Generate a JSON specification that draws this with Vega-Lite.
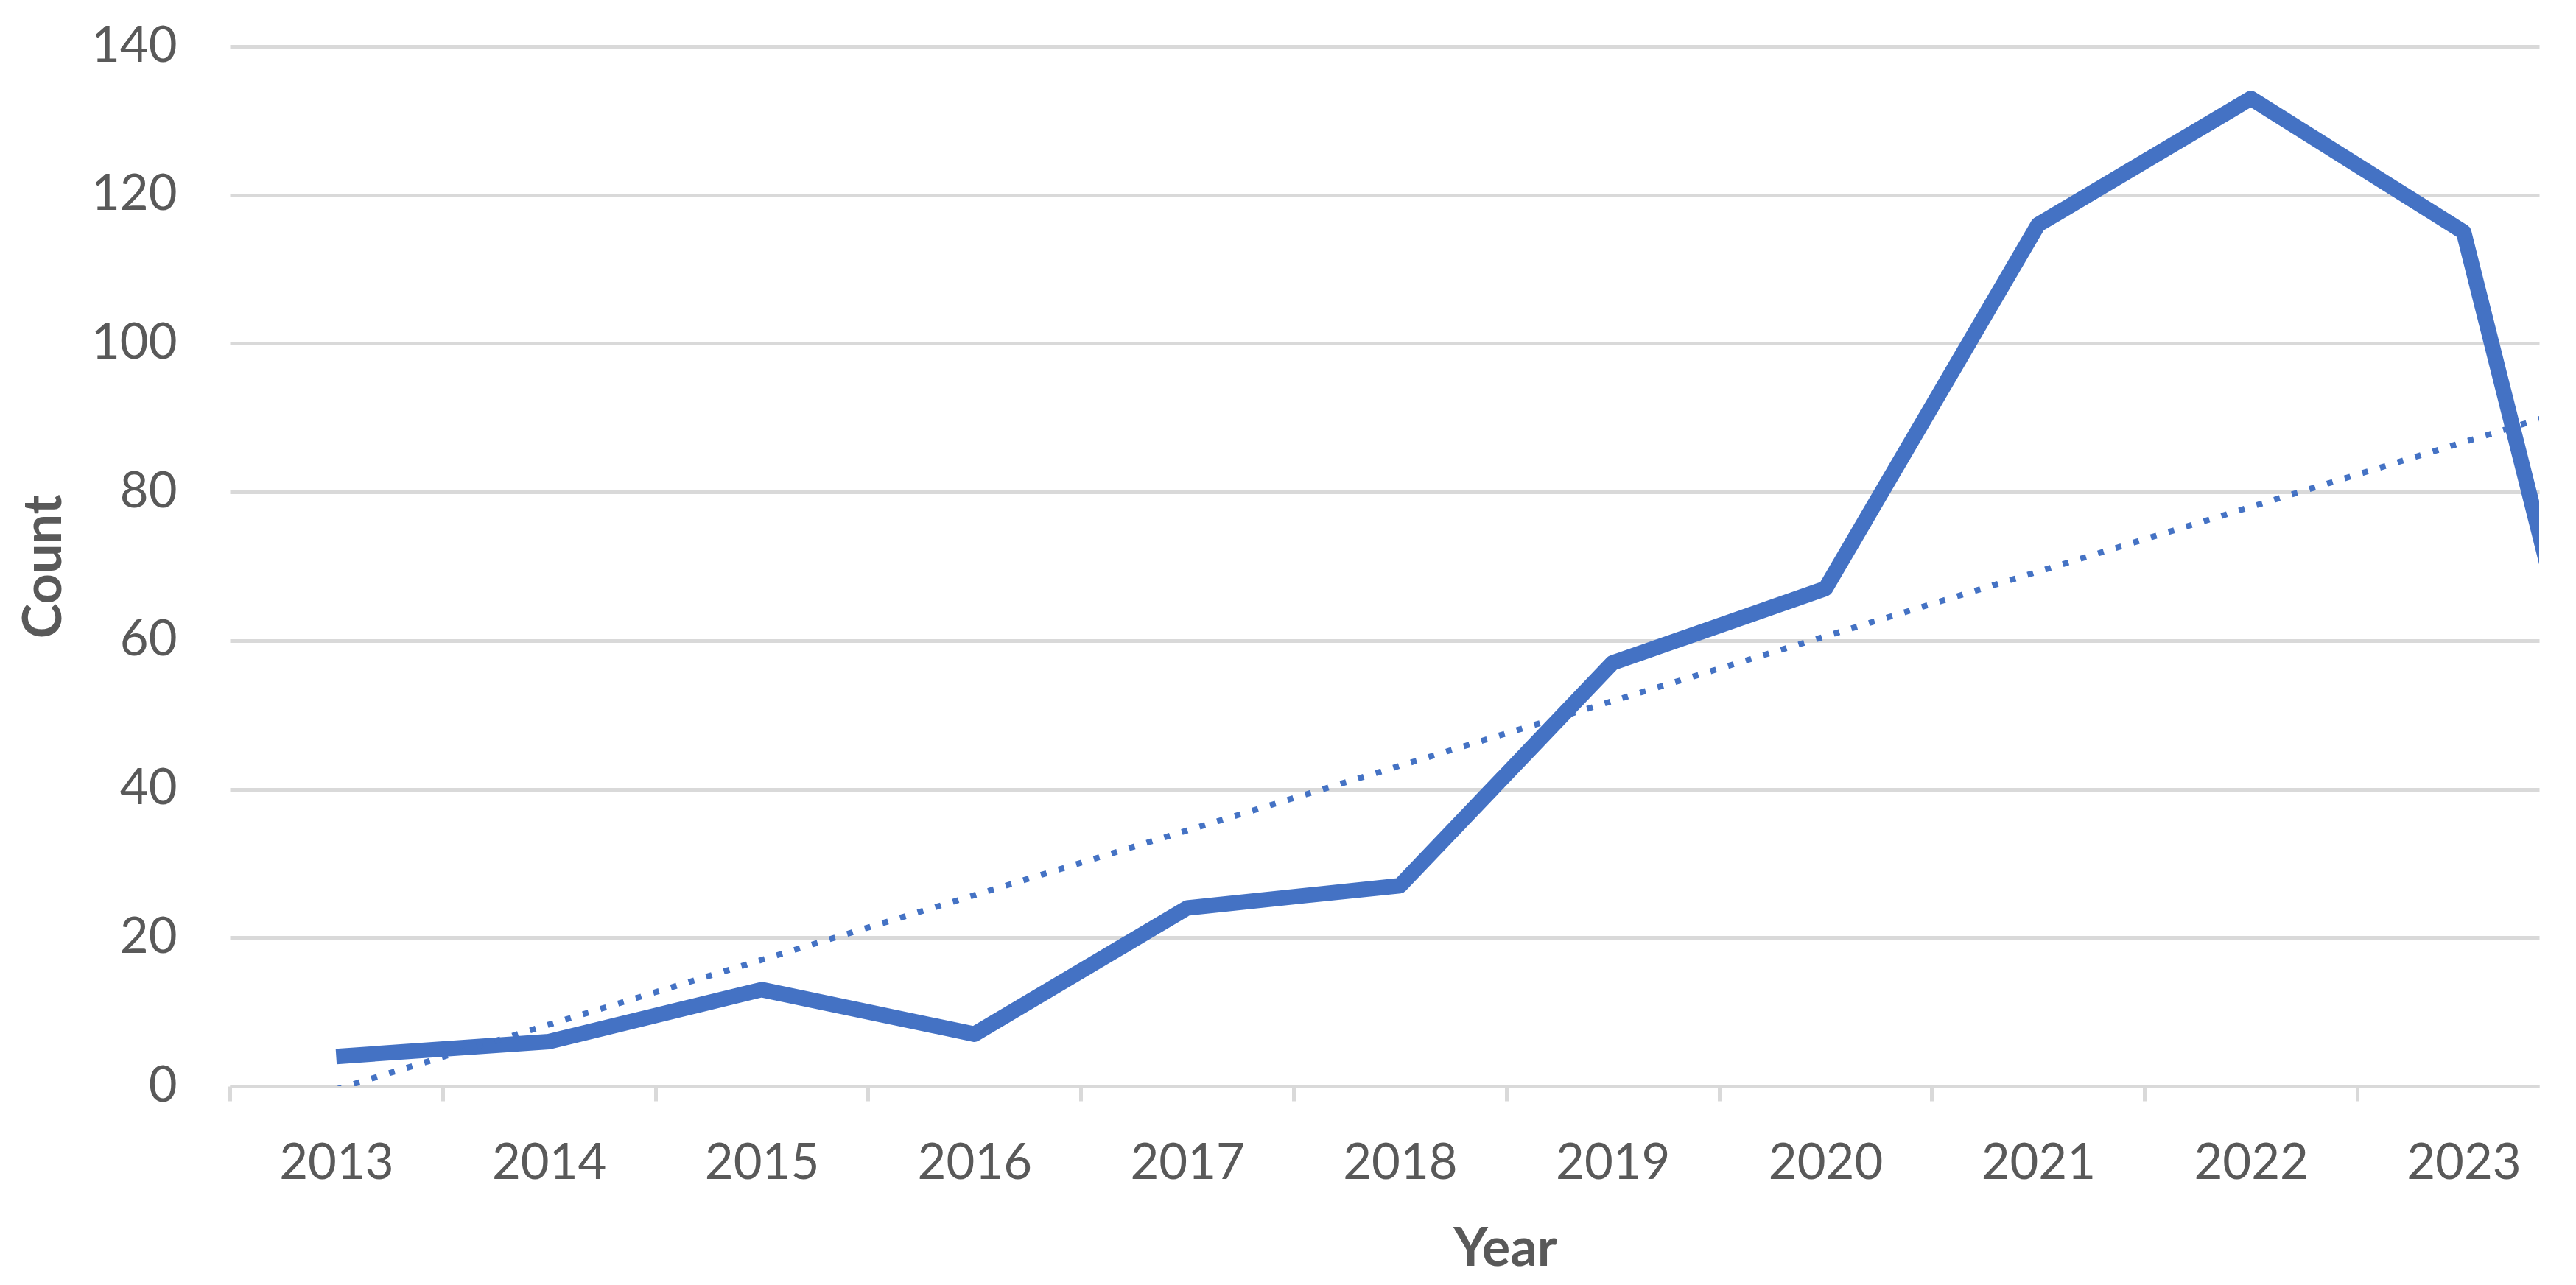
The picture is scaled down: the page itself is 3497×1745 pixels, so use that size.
{
  "$schema": "https://vega.github.io/schema/vega-lite/v6.json",
  "autosize": {"type": "none"},
  "padding": {"left": 312, "top": 63, "right": 50, "bottom": 270},
  "width": 3135,
  "height": 1412,
  "background": "white",
  "config": {
    "view": {"stroke": null},
    "font": "Lato",
    "axis": {"labelFont": "Lato", "titleFont": "Lato", "labelColor": "#595959", "titleColor": "#595959"}
  },
  "data": {
    "values": [
      {"year": 2013, "count": 4},
      {"year": 2014, "count": 6},
      {"year": 2015, "count": 13},
      {"year": 2016, "count": 7},
      {"year": 2017, "count": 24},
      {"year": 2018, "count": 27},
      {"year": 2019, "count": 57},
      {"year": 2020, "count": 67},
      {"year": 2021, "count": 116},
      {"year": 2022, "count": 133},
      {"year": 2023, "count": 115},
      {"year": 2024, "count": 1}
    ]
  },
  "layer": [
    {
      "mark": {"type": "line", "color": "#4472C4", "strokeWidth": 21, "strokeJoin": "round", "strokeCap": "butt", "clip": true},
      "encoding": {
        "x": {
          "field": "year", "type": "quantitative",
          "scale": {"domain": [2012.5, 2023.355], "nice": false, "zero": false},
          "axis": {
            "title": "Year",
            "values": [2012.5, 2013, 2013.5, 2014, 2014.5, 2015, 2015.5, 2016, 2016.5, 2017, 2017.5, 2018, 2018.5, 2019, 2019.5, 2020, 2020.5, 2021, 2021.5, 2022, 2022.5, 2023],
            "format": ".1f",
            "labelExpr": "replace(datum.label, '.0', '')",
            "labelOpacity": {"condition": {"test": "datum.value % 1 !== 0", "value": 0}, "value": 1},
            "labelOverlap": false,
            "labelBound": false,
            "labelFlush": false,
            "labelFontSize": 67,
            "labelPadding": 52,
            "grid": false,
            "domain": true,
            "domainColor": "#d9d9d9",
            "domainWidth": 5,
            "ticks": true,
            "tickColor": "#d9d9d9",
            "tickWidth": 5,
            "tickSize": 20,
            "tickOpacity": {"condition": {"test": "datum.value % 1 === 0", "value": 0}, "value": 1},
            "titleFontSize": 72,
            "titleFontWeight": "bold",
            "titleX": 1731,
            "titleY": 221,
            "titleAlign": "center",
            "titleBaseline": "middle"
          }
        },
        "y": {
          "field": "count", "type": "quantitative",
          "scale": {"domain": [0, 140], "nice": false},
          "axis": {
            "title": "Count",
            "values": [0, 20, 40, 60, 80, 100, 120, 140],
            "grid": true,
            "gridColor": "#d9d9d9",
            "gridWidth": 5,
            "domain": false,
            "ticks": false,
            "tickSize": 0,
            "labelFontSize": 67,
            "labelPadding": 72,
            "titleFontSize": 72,
            "titleFontWeight": "bold",
            "titleAngle": 270,
            "titleX": -252,
            "titleY": 706,
            "titleAlign": "center",
            "titleBaseline": "middle"
          }
        }
      }
    },
    {
      "transform": [{"regression": "count", "on": "year", "extent": [2013, 2024]}],
      "mark": {"type": "line", "color": "#4472C4", "strokeWidth": 8, "strokeDash": [8, 17], "strokeCap": "butt", "clip": true},
      "encoding": {
        "x": {"field": "year", "type": "quantitative"},
        "y": {"field": "count", "type": "quantitative"}
      }
    }
  ]
}
